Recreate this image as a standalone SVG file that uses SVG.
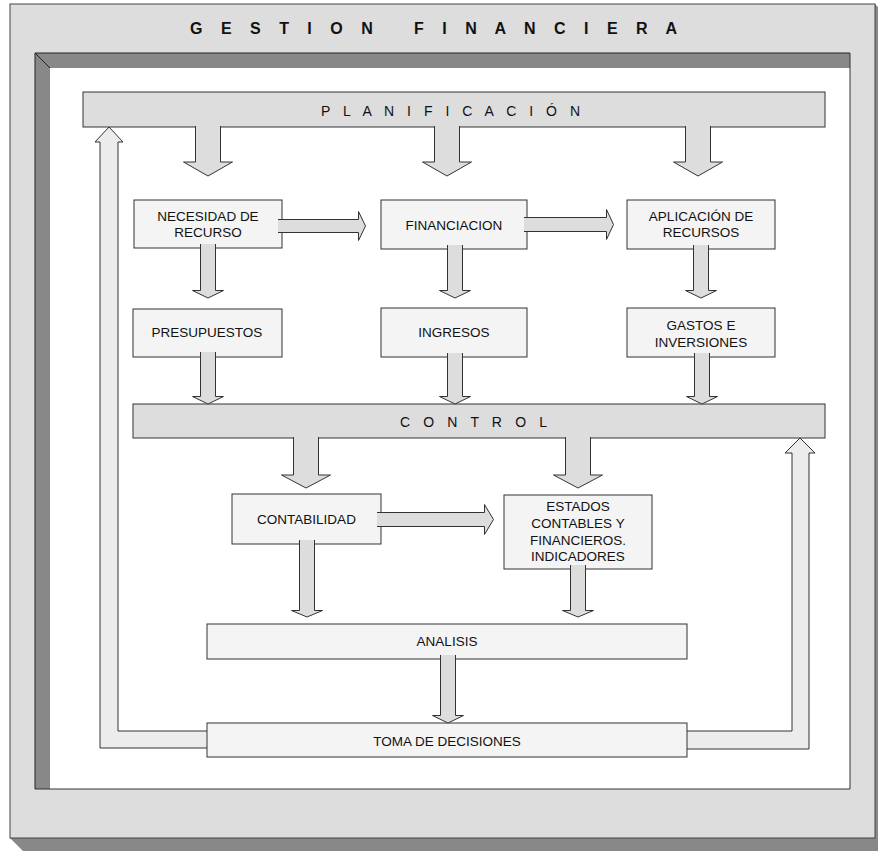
<svg xmlns="http://www.w3.org/2000/svg" width="878" height="851" viewBox="0 0 878 851">
  <style>
    text { font-family: "Liberation Sans", Arial, sans-serif; fill: #111; }
    .lbl { font-size: 13.5px; text-anchor: middle; }
    .bar { fill: #dddddd; stroke: #333; stroke-width: 1; }
    .box { fill: #f4f4f4; stroke: #333; stroke-width: 1; }
    .arrow { fill: #dddddd; stroke: #333; stroke-width: 1; stroke-linejoin: miter; }
    .loop { fill: #ececec; stroke: #333; stroke-width: 1; }
  </style>

  <!-- outer raised frame with drop shadow -->
  <g id="frame">
    <polygon points="10,838 875,838 875,4 888,17 888,851 23,851" fill="#888888"/>
    <rect x="10" y="4" width="865" height="834" fill="#dddddd" stroke="#444" stroke-width="1"/>
    <text x="190" y="34" font-size="16" font-weight="bold" textLength="487" lengthAdjust="spacing" xml:space="preserve">G E S T I O N   F I N A N C I E R A</text>
    <!-- inset panel -->
    <rect x="35" y="53" width="815" height="736" fill="#888888"/>
    <rect x="50" y="68" width="800" height="721" fill="#ffffff"/>
    <path d="M35,53 L50,68" stroke="#222" stroke-width="1"/>
    <path d="M35,789 V53 H850" fill="none" stroke="#222" stroke-width="1"/>
    <path d="M35,789 H850 V53" fill="none" stroke="#333" stroke-width="1"/>
  </g>

  <!-- feedback loops from the decision box -->
  <g id="connectors-loops">
    <path class="loop" d="M207,731 H118 V142 H123 L109,127 L95,142 H100 V748 H207"/>
    <path class="loop" d="M687,731 H792 V453 H785 L800,438 L815,453 H809 V749 H687"/>
  </g>

  <g id="planificacion">
    <rect class="bar" x="83" y="92" width="742" height="35"/>
    <text x="321" y="116" font-size="14" textLength="259" lengthAdjust="spacing">P L A N I F I C A C I Ó N</text>
  </g>

  <g id="control">
    <rect class="bar" x="133" y="404" width="692" height="34"/>
    <text x="400" y="427" font-size="14" textLength="147" lengthAdjust="spacing">C O N T R O L</text>
  </g>

  <g id="necesidad">
    <rect class="box" x="134" y="200" width="148" height="48"/>
    <text class="lbl" x="208" y="221">NECESIDAD DE</text>
    <text class="lbl" x="208" y="237">RECURSO</text>
  </g>
  <g id="financiacion">
    <rect class="box" x="381" y="200" width="146" height="49"/>
    <text class="lbl" x="454" y="230">FINANCIACION</text>
  </g>
  <g id="aplicacion">
    <rect class="box" x="627" y="200" width="148" height="49"/>
    <text class="lbl" x="701" y="221">APLICACIÓN DE</text>
    <text class="lbl" x="701" y="237">RECURSOS</text>
  </g>
  <g id="presupuestos">
    <rect class="box" x="133" y="309" width="149" height="48"/>
    <text class="lbl" x="207" y="337">PRESUPUESTOS</text>
  </g>
  <g id="ingresos">
    <rect class="box" x="381" y="308" width="146" height="49"/>
    <text class="lbl" x="454" y="337">INGRESOS</text>
  </g>
  <g id="gastos">
    <rect class="box" x="627" y="308" width="148" height="49"/>
    <text class="lbl" x="701" y="330">GASTOS E</text>
    <text class="lbl" x="701" y="347">INVERSIONES</text>
  </g>
  <g id="contabilidad">
    <rect class="box" x="232" y="494" width="149" height="50"/>
    <text class="lbl" x="306.5" y="524">CONTABILIDAD</text>
  </g>
  <g id="estados">
    <rect class="box" x="504" y="495" width="148" height="74"/>
    <text class="lbl" x="578" y="511">ESTADOS</text>
    <text class="lbl" x="578" y="528">CONTABLES Y</text>
    <text class="lbl" x="578" y="545">FINANCIEROS.</text>
    <text class="lbl" x="578" y="561">INDICADORES</text>
  </g>
  <g id="analisis">
    <rect class="box" x="207" y="624" width="480" height="35"/>
    <text class="lbl" x="447" y="646">ANALISIS</text>
  </g>
  <g id="decisiones">
    <rect class="box" x="207" y="723" width="480" height="34"/>
    <text class="lbl" x="447" y="746">TOMA DE DECISIONES</text>
  </g>

  <!-- block arrows; tails are left open so they blend into their source shape -->
  <g id="connectors">
    <!-- from PLANIFICACIÓN -->
    <path class="arrow" d="M195.5,126 V162 H183.5 L208,176 L232.5,162 H220.5 V126"/>
    <path class="arrow" d="M434.5,126 V162 H422.5 L447,176 L471.5,162 H459.5 V126"/>
    <path class="arrow" d="M685.5,126 V162 H673.5 L698,176 L722.5,162 H710.5 V126"/>
    <!-- horizontal box to box -->
    <path class="arrow" d="M278,219.5 H358.5 V211.5 L365.5,226 L358.5,240.5 V232.5 H278"/>
    <path class="arrow" d="M524,217.5 H606.5 V209.5 L613.5,224.5 L606.5,239.5 V231.5 H524"/>
    <!-- row 1 to row 2 -->
    <path class="arrow" d="M200.5,244 V290.5 H192.5 L208,298 L223.5,290.5 H215.5 V244"/>
    <path class="arrow" d="M447.5,245 V290.5 H439.5 L455,298 L470.5,290.5 H462.5 V245"/>
    <path class="arrow" d="M693.5,245 V290.5 H685.5 L701,298 L716.5,290.5 H708.5 V245"/>
    <!-- row 2 to CONTROL -->
    <path class="arrow" d="M200.5,352 V396.5 H192.5 L208,404 L223.5,396.5 H215.5 V352"/>
    <path class="arrow" d="M447.5,353 V396.5 H439.5 L455,404 L470.5,396.5 H462.5 V353"/>
    <path class="arrow" d="M694.5,353 V396.5 H686.5 L702,404 L717.5,396.5 H709.5 V353"/>
    <!-- from CONTROL -->
    <path class="arrow" d="M293.5,437 V475 H281.5 L306,488 L330.5,475 H318.5 V437"/>
    <path class="arrow" d="M565.5,437 V475 H553.5 L578,488 L602.5,475 H590.5 V437"/>
    <!-- CONTABILIDAD to ESTADOS -->
    <path class="arrow" d="M377,512.5 H484.5 V504.5 L493.5,519.5 L484.5,534.5 V526.5 H377"/>
    <!-- to ANALISIS -->
    <path class="arrow" d="M299.5,540 V610.5 H291.5 L307,617 L322.5,610.5 H314.5 V540"/>
    <path class="arrow" d="M570.5,565 V610.5 H562.5 L578,617 L593.5,610.5 H585.5 V565"/>
    <!-- ANALISIS to TOMA DE DECISIONES -->
    <path class="arrow" d="M440.5,655 V715.5 H432.5 L448,723 L463.5,715.5 H455.5 V655"/>
  </g>
</svg>
